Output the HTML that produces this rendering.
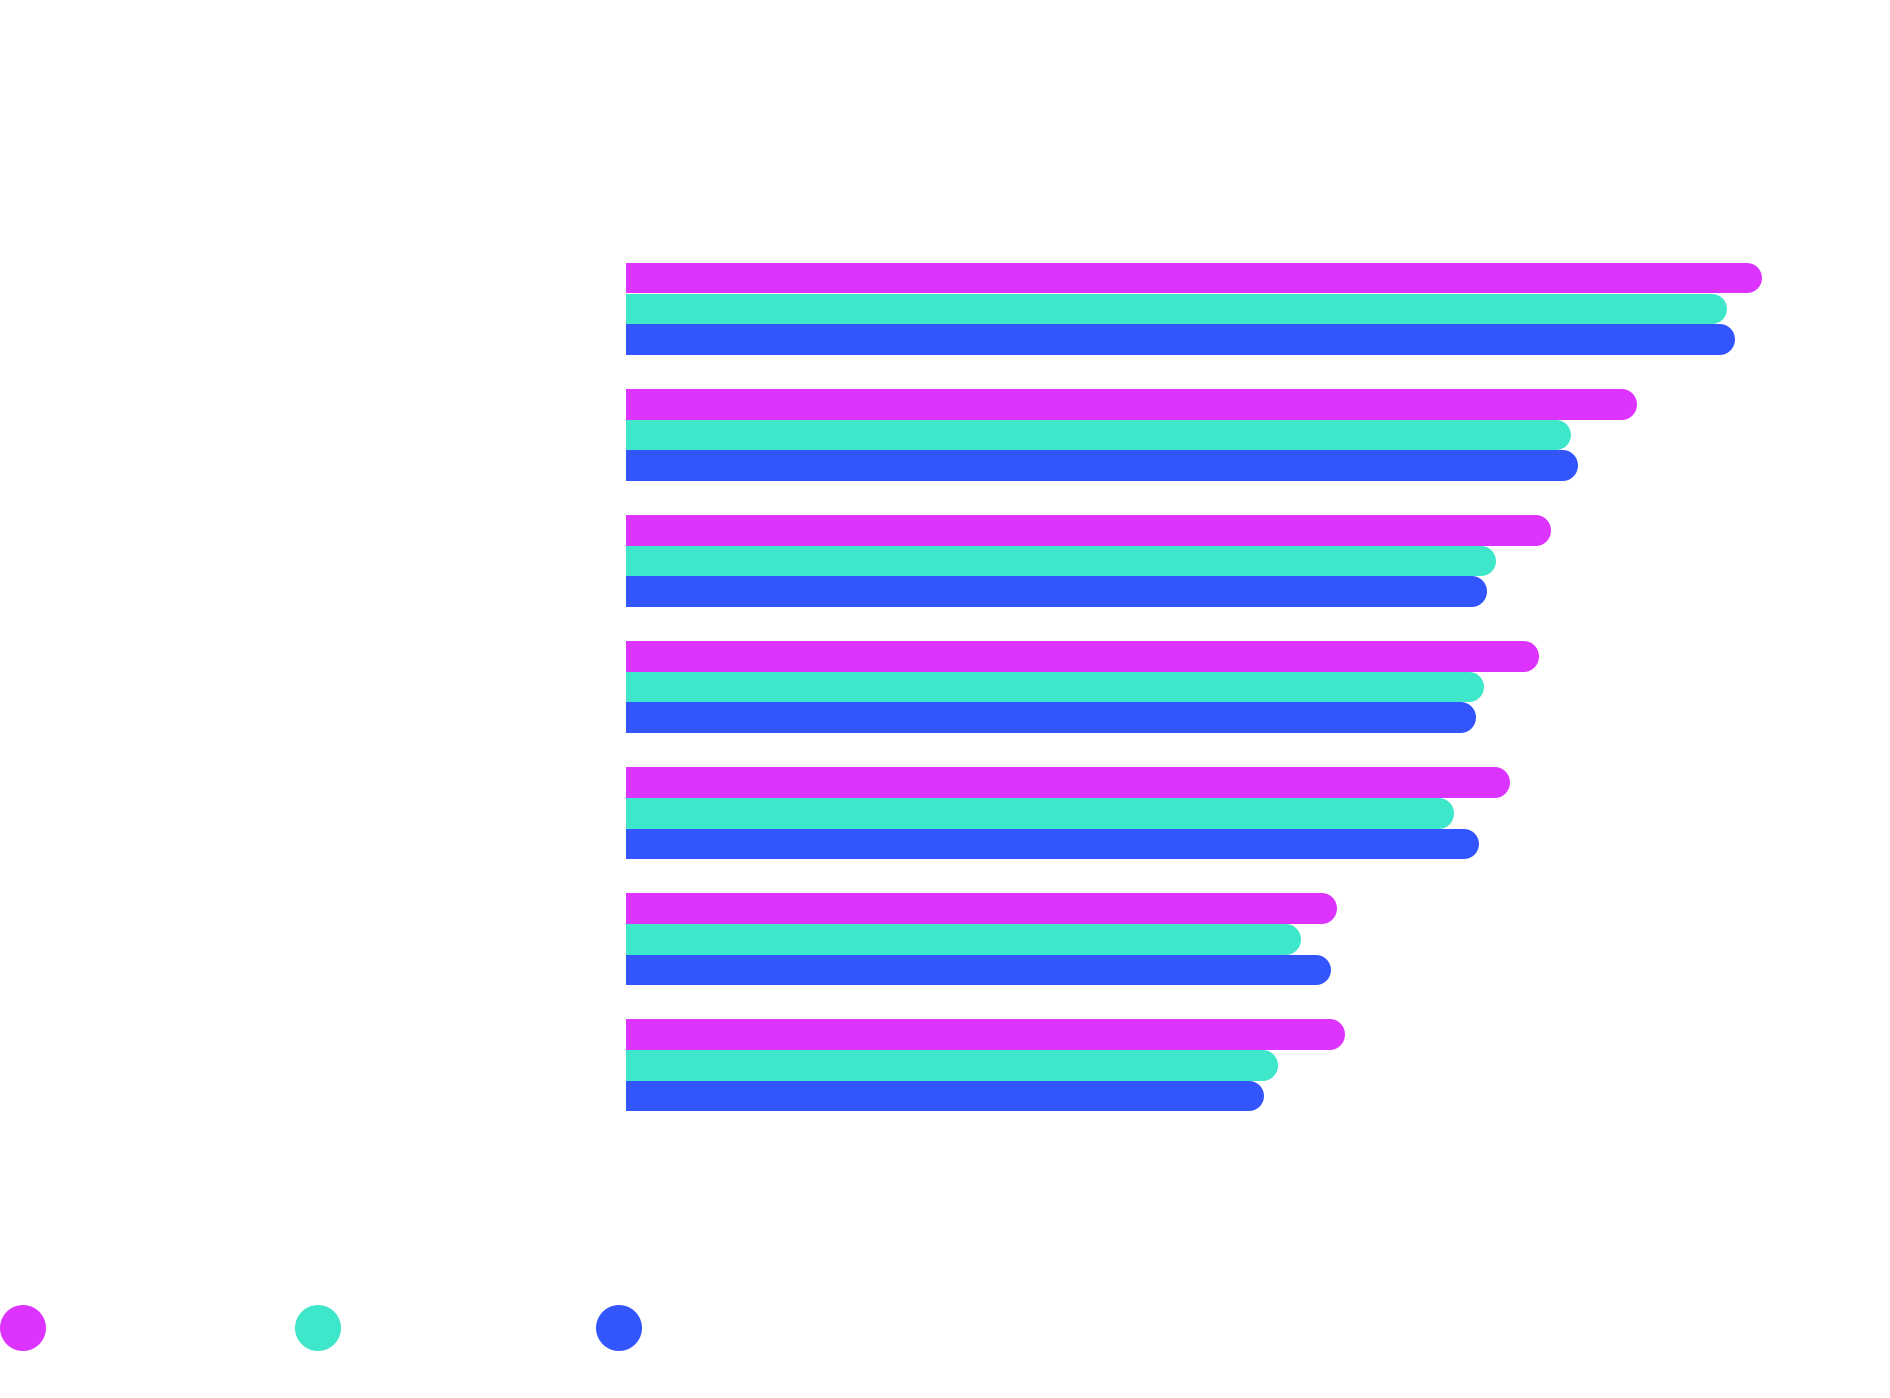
<!DOCTYPE html>
<html><head><meta charset="utf-8"><style>
html,body{margin:0;padding:0;background:#fff;}
body{width:1890px;height:1398px;position:relative;overflow:hidden;font-family:"Liberation Sans",sans-serif;}
.b{position:absolute;left:626px;height:30.7px;border-radius:0 15.3px 15.3px 0;}
.m{background:#dd33fe}.t{background:#3ee6ca}.u{background:#3355fe}
.d{position:absolute;width:46px;height:46px;border-radius:50%;top:1305px;}
</style></head><body>
<div id="c"></div>
<script>
var tops=[262.8,389.0,514.9,641.0,767.2,893.3,1019.4];
var ends=[[1762,1727,1735],[1637,1571,1578],[1551,1496,1487],[1539,1484,1476],[1510,1454,1479],[1337,1301,1331],[1345,1278,1264]];
var cls=['m','t','u'];var h='';
for(var g=0;g<7;g++){for(var k=0;k<3;k++){h+='<div class="b '+cls[k]+'" style="top:'+(tops[g]+k*30.7)+'px;width:'+(ends[g][k]-626)+'px"></div>';}}
document.getElementById('c').innerHTML=h;
</script>
<div class="d m" style="left:0px"></div>
<div class="d t" style="left:295px"></div>
<div class="d u" style="left:596px"></div>
</body></html>
